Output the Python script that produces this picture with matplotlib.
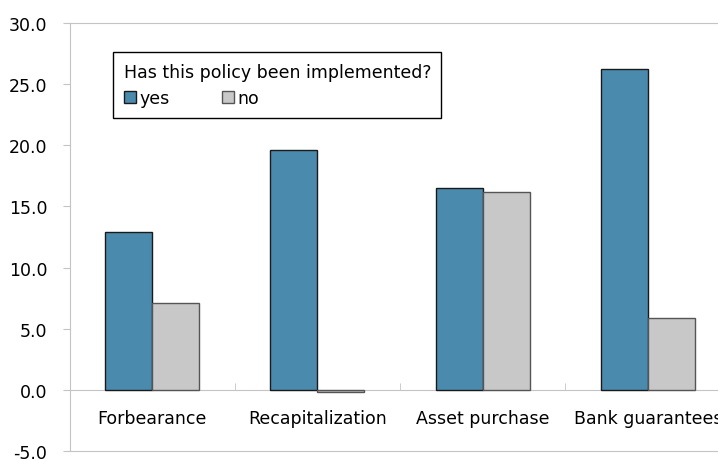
import numpy as np
import matplotlib.pyplot as plt

categories = ['Forbearance', 'Recapitalization', 'Asset purchase', 'Bank guarantees']
yes_values = [12.9, 19.6, 16.5, 26.2]
no_values = [7.1, -0.2, 16.2, 5.9]
y_ticks = [-5, 0, 5, 10, 15, 20, 25, 30]

plt.rcParams['font.family'] = ['DejaVu Sans']
plt.rcParams['font.size'] = 12.5

blue = '#4a8aad'
grey = '#c8c8c8'
axis_grey = '#c4c4c4'

fig = plt.figure(figsize=(7.18, 4.60), dpi=100)
ax = fig.add_axes([69.5 / 718, 8 / 460, 661 / 718, 428 / 460])

x = np.arange(len(categories))
w = 0.285
ax.bar(x - w / 2, yes_values, w, color=blue, edgecolor='#1a1a1a', linewidth=1, label='yes', zorder=3)
ax.bar(x + w / 2, no_values, w, color=grey, edgecolor='#555555', linewidth=1, label='no', zorder=3)

ax.set_xlim(-0.5, len(categories) - 0.5)
ax.set_ylim(-5, 30)
ax.set_yticks(y_ticks)
ax.set_yticklabels([f'{v:.1f}' for v in y_ticks])
ax.tick_params(axis='y', direction='out', length=5, color=axis_grey, pad=11)
ax.set_xticks([])

for side in ['left', 'top', 'bottom']:
    ax.spines[side].set_color(axis_grey)
ax.spines['right'].set_visible(False)

# category axis running along zero
zero_frac = (0 - (-5)) / 35
sec = ax.secondary_xaxis(zero_frac)
sec.set_xticks(x)
sec.set_xticklabels(categories)
sec.set_xticks(np.arange(len(categories) - 1) + 0.5, minor=True)
sec.tick_params(axis='x', which='major', length=0, pad=14)
sec.tick_params(axis='x', which='minor', direction='in', length=5, color=axis_grey)
sec.spines['bottom'].set_color(axis_grey)

leg = ax.legend(title='Has this policy been implemented?', loc='upper left',
                bbox_to_anchor=(0.066, 0.932), borderaxespad=0, ncol=2, fancybox=False,
                edgecolor='black', framealpha=1, handlelength=0.7, handleheight=0.7,
                handletextpad=0.2, columnspacing=3.0, borderpad=0.6, labelspacing=0.5,
                alignment='left', title_fontsize=12.5)
leg.get_frame().set_linewidth(1)

fig.savefig('out.png', dpi=100)
